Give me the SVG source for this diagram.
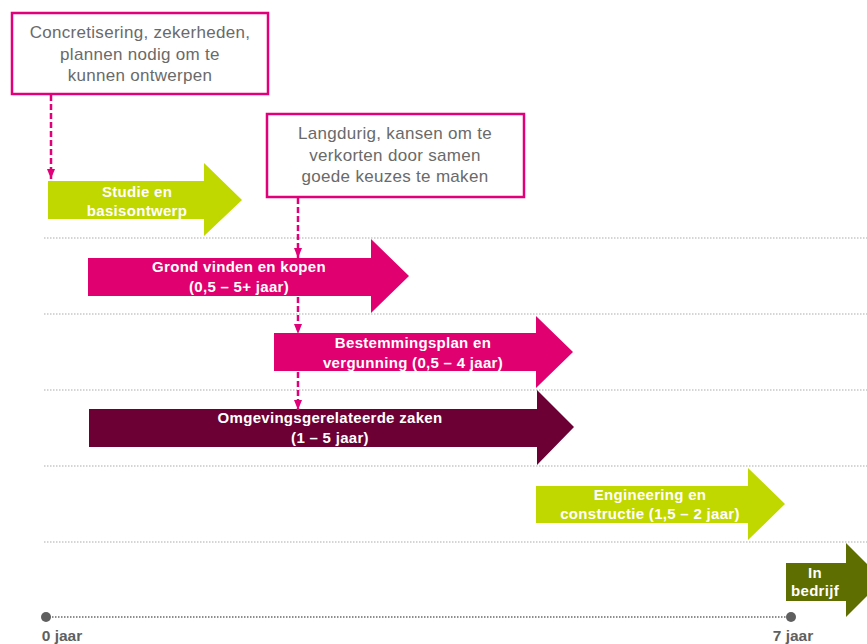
<svg xmlns="http://www.w3.org/2000/svg" width="867" height="644" viewBox="0 0 867 644">
<defs>
<style>
.grid{stroke:#c8c8c8;stroke-width:1.5;stroke-dasharray:1.5 1.5;fill:none}
.axis{stroke:#6a6a6a;stroke-width:1.5;stroke-dasharray:1.5 1.5;fill:none}
.box{fill:#fff;stroke:#e2007a;stroke-width:2.5}
.boxt{font-family:"Liberation Sans",Arial,sans-serif;font-size:17px;letter-spacing:0.3px;fill:#6a6a6a;text-anchor:middle}
.at{font-family:"Liberation Sans",Arial,sans-serif;font-size:15px;letter-spacing:0.3px;font-weight:bold;fill:#fff;text-anchor:middle}
.axt{font-family:"Liberation Sans",Arial,sans-serif;font-size:15.5px;font-weight:bold;fill:#5f5f5f;text-anchor:middle}
.dash{stroke:#e2007a;stroke-width:2.5;stroke-dasharray:6 3;fill:none}
.lime{fill:#c1d700}
.mag{fill:#e0006f}
.mar{fill:#6c0035}
.olv{fill:#5f6e00}
</style>
<marker id="ah" viewBox="0 0 10 8" refX="10" refY="4" markerWidth="4" markerHeight="3.2" orient="auto" markerUnits="strokeWidth">
<path d="M0,0 L10,4 L0,8 Z" fill="#e2007a"/>
</marker>
</defs>
<rect width="867" height="644" fill="#fff"/>
<g id="grid">
<line class="grid" x1="44" y1="238" x2="867" y2="238"/>
<line class="grid" x1="44" y1="314" x2="867" y2="314"/>
<line class="grid" x1="44" y1="390" x2="867" y2="390"/>
<line class="grid" x1="44" y1="466" x2="867" y2="466"/>
<line class="grid" x1="44" y1="542" x2="867" y2="542"/>
</g>
<g id="axis">
<line class="axis" x1="46" y1="617" x2="791" y2="617"/>
<circle cx="46" cy="617" r="5" fill="#5f5f5f"/>
<circle cx="791" cy="617" r="5" fill="#5f5f5f"/>
<text class="axt" x="62" y="641">0 jaar</text>
<text class="axt" x="793" y="641">7 jaar</text>
</g>
<g id="box1">
<rect class="box" x="12" y="13" width="256" height="81"/>
<text class="boxt" x="140" y="38">Concretisering, zekerheden,</text>
<text class="boxt" x="140" y="60">plannen nodig om te</text>
<text class="boxt" x="140" y="81">kunnen ontwerpen</text>
</g>
<g id="box2">
<rect class="box" x="267" y="114" width="257" height="83"/>
<text class="boxt" x="395" y="139">Langdurig, kansen om te</text>
<text class="boxt" x="395" y="161">verkorten door samen</text>
<text class="boxt" x="395" y="182">goede keuzes te maken</text>
</g>
<g id="studie">
<path class="lime" d="M48,181 H204 V163 L242,200 L204,236 V219 H48 Z"/>
<text class="at" x="137" y="197">Studie en</text>
<text class="at" x="137" y="216">basisontwerp</text>
</g>
<g id="grond">
<path class="mag" d="M88,258 H371 V239 L409,276 L371,313 V296 H88 Z"/>
<text class="at" x="239" y="272">Grond vinden en kopen</text>
<text class="at" x="239" y="292">(0,5 – 5+ jaar)</text>
</g>
<g id="bestemming">
<path class="mag" d="M274,333 H536 V316 L573,352 L536,388 V371 H274 Z"/>
<text class="at" x="413" y="348">Bestemmingsplan  en</text>
<text class="at" x="413" y="368">vergunning  (0,5 – 4 jaar)</text>
</g>
<g id="omgeving">
<path class="mar" d="M89,409 H537 V390 L574,427 L537,465 V447 H89 Z"/>
<text class="at" x="330" y="423">Omgevingsgerelateerde  zaken</text>
<text class="at" x="330" y="443">(1 – 5 jaar)</text>
</g>
<g id="engineering">
<path class="lime" d="M536,486 H748 V468 L785,504 L748,540 V523 H536 Z"/>
<text class="at" x="650" y="500">Engineering  en</text>
<text class="at" x="650" y="519">constructie (1,5 – 2 jaar)</text>
</g>
<g id="inbedrijf">
<path class="olv" d="M786,563 H846 V543 L883,580 L846,617 V601 H786 Z"/>
<text class="at" x="815" y="578">In</text>
<text class="at" x="815" y="596">bedrijf</text>
</g>
<g id="connectors">
<line class="dash" x1="51" y1="95" x2="51" y2="179" marker-end="url(#ah)"/>
<line class="dash" x1="298" y1="198" x2="298" y2="258" marker-end="url(#ah)"/>
<line class="dash" x1="298" y1="297" x2="298" y2="334" marker-end="url(#ah)"/>
<line class="dash" x1="298" y1="372" x2="298" y2="410" marker-end="url(#ah)"/>
</g>
</svg>
